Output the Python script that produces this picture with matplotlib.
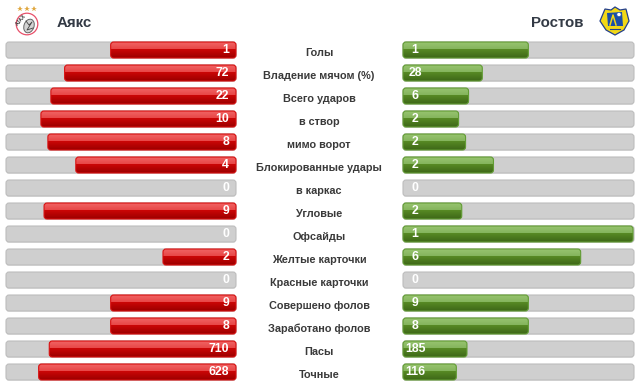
import numpy as np
import matplotlib
matplotlib.use("Agg")
import matplotlib.pyplot as plt
from matplotlib.patches import FancyBboxPatch, Circle, Polygon, Ellipse

plt.rcParams["font.family"] = ["Liberation Sans", "DejaVu Sans"]

TEAM_LEFT = "Аякс"
TEAM_RIGHT = "Ростов"

stat_labels = [
    "Голы", "Владение мячом (%)", "Всего ударов", "в створ", "мимо ворот",
    "Блокированные удары", "в каркас", "Угловые", "Офсайды", "Желтые карточки",
    "Красные карточки", "Совершено фолов", "Заработано фолов", "Пасы", "Точные",
]
left_values = [1, 72, 22, 10, 8, 4, 0, 9, 0, 2, 0, 9, 8, 710, 628]
right_values = [1, 28, 6, 2, 2, 2, 0, 2, 1, 6, 0, 9, 8, 185, 116]

TRACK_W = 230
ROW_H = 23
BAR_H = 16


def bar_width(a, b):
    # the site gives every non-empty bar a fixed stub plus its share
    if a == 0:
        return 0
    return TRACK_W * (0.09 + 0.91 * a / (a + b))


def rounded(ax, x, y, w, h, **kw):
    box = FancyBboxPatch((x + 2, y + 2), w - 4, h - 4,
                         boxstyle="round,pad=2,rounding_size=3", **kw)
    ax.add_patch(box)
    return box


def hexc(s):
    return np.array([int(s[i:i + 2], 16) / 255 for i in (1, 3, 5)])


def draw_bar(ax, x, y, w, top, high, mid, low, edge):
    box = rounded(ax, x, y, w, BAR_H, facecolor="none", edgecolor=edge, linewidth=0.8, zorder=4)
    # upper part is the lighter gloss, lower part a dark fade
    colors = np.zeros((64, 1, 3))
    for i in range(64):
        t = i / 63
        if t < 0.45:
            colors[i, 0] = top + (high - top) * t / 0.45
        else:
            colors[i, 0] = mid + (low - mid) * (t - 0.45) / 0.55
    img = ax.imshow(colors, extent=(x, x + w, y + BAR_H, y), aspect="auto", zorder=3,
                    interpolation="nearest")
    img.set_clip_path(box)


fig = plt.figure(figsize=(6.41, 3.85), dpi=100)
ax = fig.add_axes([0, 0, 1, 1])
ax.set_xlim(0, 641)
ax.set_ylim(385, 0)
ax.axis("off")

for i, label in enumerate(stat_labels):
    y = 42 + i * ROW_H
    a, b = left_values[i], right_values[i]

    # shadows and grey tracks
    rounded(ax, 6, y + 1, TRACK_W, BAR_H, facecolor="#e6e6e6", edgecolor="none", zorder=1)
    rounded(ax, 403, y + 1, TRACK_W + 1, BAR_H, facecolor="#e6e6e6", edgecolor="none", zorder=1)
    rounded(ax, 6, y, TRACK_W, BAR_H, facecolor="#cfcfcf", edgecolor="#bdbdbd", linewidth=0.8, zorder=2)
    rounded(ax, 403, y, TRACK_W + 1, BAR_H, facecolor="#cfcfcf", edgecolor="#bdbdbd", linewidth=0.8, zorder=2)

    wl = bar_width(a, b)
    wr = bar_width(b, a)
    if wl > 0:
        draw_bar(ax, 236 - wl, y, wl, hexc("#f06464"), hexc("#e84646"), hexc("#cc0606"),
                 hexc("#9c0000"), "#d81010")
    if wr > 0:
        draw_bar(ax, 403, y, wr, hexc("#98c470"), hexc("#84b45c"), hexc("#588a24"),
                 hexc("#3e6818"), "#629c34")

    ax.text(319, y + 14, label, ha="center", va="baseline", fontsize=7.85, fontweight="bold",
            color="#3a3a3a", zorder=6)
    ax.text(229, y + 11, str(a), ha="right", va="baseline", fontsize=8.8, fontweight="bold",
            color="white", zorder=6)
    ax.text(415, y + 11, str(b), ha="center", va="baseline", fontsize=8.8, fontweight="bold",
            color="white", zorder=6)

ax.text(57, 27, TEAM_LEFT, ha="left", va="baseline", fontsize=10.8, fontweight="bold", color="#333a45")
ax.text(584, 27, TEAM_RIGHT, ha="right", va="baseline", fontsize=10.8, fontweight="bold", color="#333a45")

# Ajax crest
for sx in (20, 27, 34):
    ax.plot(sx, 8.5, marker="*", ms=4, color="#e0a840", mew=0)
ax.add_patch(Circle((27, 24), 10.8, facecolor="white", edgecolor="#e8506a", linewidth=0.9))
ax.add_patch(Ellipse((29, 26), 10, 14, angle=20, facecolor="#d4d4d4", edgecolor="#666666", linewidth=0.7))
ax.plot([26, 29, 32, 27, 33], [21, 25, 22, 30, 28], color="#444444", lw=0.6)
ax.text(21, 19.5, "AJAX", fontsize=3.6, fontweight="bold", color="#333333", rotation=50,
        ha="center", va="center")

# Rostov crest
shield = [(605, 9), (611, 10), (615, 7), (620, 10), (626, 9), (629, 21), (624, 30), (615, 35),
          (606, 30), (600, 21)]
ax.add_patch(Polygon(shield, closed=True, facecolor="#f2d816", edgecolor="#24408c", linewidth=0.9))
ax.add_patch(Polygon([(607, 13), (622, 12), (623, 26), (608, 26)], closed=True,
                     facecolor="#1a4ea8", edgecolor="none"))
ax.plot([610, 613, 616], [25, 15, 25], color="#f2d816", lw=1.1)
ax.add_patch(Circle((619, 14.5), 2.2, facecolor="white", edgecolor="#1a4ea8", linewidth=0.5))
ax.plot([610, 620], [29, 29], color="#24408c", lw=0.8)

ax.set_xlim(0, 641)
ax.set_ylim(385, 0)
fig.savefig("out.png", dpi=100, facecolor="white")
